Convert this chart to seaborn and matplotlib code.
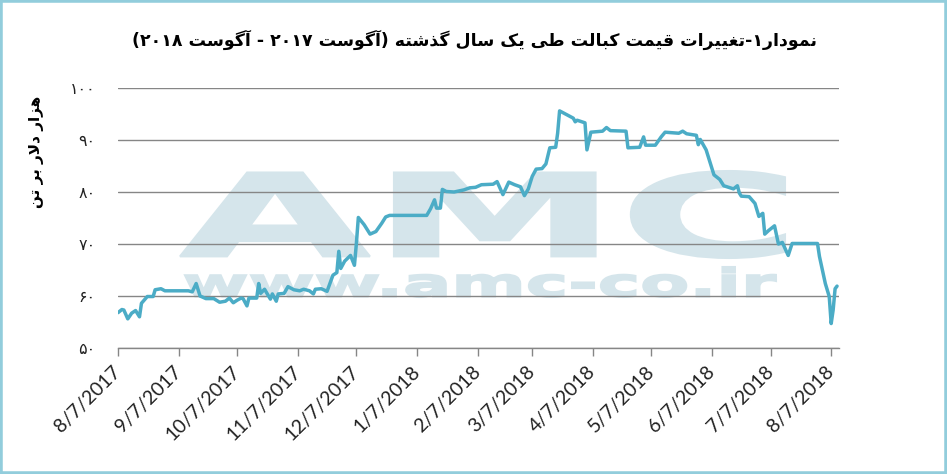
import re
import pandas as pd
import seaborn as sns
import matplotlib
matplotlib.use("Agg")
import matplotlib.pyplot as plt
from matplotlib.patches import PathPatch, Rectangle
from matplotlib.textpath import TextPath
from matplotlib.font_manager import FontProperties
from matplotlib.transforms import Affine2D

# ---- data ----
price_dates = [
    "2017-08-07", "2017-08-09", "2017-08-10", "2017-08-12", "2017-08-14", "2017-08-16",
    "2017-08-18", "2017-08-19", "2017-08-22", "2017-08-25", "2017-08-26", "2017-08-29",
    "2017-08-31", "2017-09-12", "2017-09-14", "2017-09-16", "2017-09-18", "2017-09-21",
    "2017-09-25", "2017-09-28", "2017-10-01", "2017-10-03", "2017-10-05", "2017-10-07",
    "2017-10-09", "2017-10-10", "2017-10-12", "2017-10-13", "2017-10-17", "2017-10-18",
    "2017-10-19", "2017-10-21", "2017-10-24", "2017-10-25", "2017-10-27", "2017-10-28",
    "2017-10-31", "2017-11-02", "2017-11-05", "2017-11-08", "2017-11-10", "2017-11-13",
    "2017-11-15", "2017-11-16", "2017-11-19", "2017-11-22", "2017-11-25", "2017-11-27",
    "2017-11-28", "2017-11-29", "2017-12-01", "2017-12-04", "2017-12-06", "2017-12-07",
    "2017-12-08", "2017-12-11", "2017-12-14", "2017-12-17", "2017-12-20", "2017-12-22",
    "2017-12-24", "2018-01-12", "2018-01-14", "2018-01-16", "2018-01-17", "2018-01-19",
    "2018-01-20", "2018-01-22", "2018-01-26", "2018-01-31", "2018-02-03", "2018-02-06",
    "2018-02-09", "2018-02-15", "2018-02-17", "2018-02-20", "2018-02-23", "2018-02-26",
    "2018-03-01", "2018-03-03", "2018-03-05", "2018-03-07", "2018-03-09", "2018-03-12",
    "2018-03-14", "2018-03-16", "2018-03-19", "2018-03-20", "2018-03-21", "2018-03-24",
    "2018-03-26", "2018-03-28", "2018-03-29", "2018-03-30", "2018-04-03", "2018-04-04",
    "2018-04-06", "2018-04-12", "2018-04-14", "2018-04-16", "2018-04-24", "2018-04-25",
    "2018-05-01", "2018-05-03", "2018-05-04", "2018-05-09", "2018-05-12", "2018-05-14",
    "2018-05-21", "2018-05-23", "2018-05-25", "2018-05-30", "2018-05-31", "2018-06-01",
    "2018-06-04", "2018-06-07", "2018-06-08", "2018-06-11", "2018-06-13", "2018-06-18",
    "2018-06-20", "2018-06-21", "2018-06-22", "2018-06-26", "2018-06-29", "2018-07-01",
    "2018-07-03", "2018-07-04", "2018-07-06", "2018-07-09", "2018-07-11", "2018-07-13",
    "2018-07-16", "2018-07-18", "2018-07-31", "2018-08-01", "2018-08-04", "2018-08-06",
    "2018-08-07", "2018-08-08", "2018-08-09", "2018-08-10",
]
price_values = [
    56.8, 57.4, 57.3, 55.6, 56.7, 57.2,
    56.0, 58.6, 59.9, 59.9, 61.2, 61.4,
    61.0, 61.0, 60.8, 62.4, 60.0, 59.5,
    59.5, 58.8, 59.0, 59.6, 58.7, 59.2,
    59.6, 59.5, 58.1, 59.6, 59.6, 62.4,
    60.5, 61.3, 59.4, 60.4, 59.0, 60.4,
    60.5, 61.8, 61.2, 61.0, 61.3, 61.0,
    60.4, 61.3, 61.4, 60.9, 64.0, 64.5,
    68.6, 65.3, 66.7, 67.8, 65.9, 70.1,
    75.1, 73.7, 71.9, 72.4, 74.0, 75.2,
    75.5, 75.5, 76.8, 78.5, 76.9, 76.9,
    80.5, 80.1, 80.0, 80.4, 80.8, 80.9,
    81.4, 81.5, 82.0, 79.5, 81.9, 81.4,
    81.0, 79.3, 80.6, 83.0, 84.4, 84.5,
    85.4, 88.5, 88.6, 91.3, 95.6, 95.0,
    94.6, 94.2, 93.5, 93.8, 93.3, 88.1,
    91.5, 91.7, 92.4, 91.8, 91.7, 88.5,
    88.6, 90.6, 89.0, 89.0, 90.6, 91.5,
    91.3, 91.7, 91.2, 90.9, 89.1, 90.1,
    88.1, 84.5, 83.3, 82.4, 81.2, 80.6,
    81.2, 79.8, 79.2, 79.1, 77.8, 75.3,
    75.9, 71.9, 72.6, 73.5, 70.0, 70.3,
    67.8, 70.1, 70.1, 67.6, 62.4, 59.9,
    54.7, 57.3, 61.4, 61.9,
]

tick_dates = ["2017-08-07", "2017-09-07", "2017-10-07", "2017-11-07", "2017-12-07",
              "2018-01-07", "2018-02-07", "2018-03-07", "2018-04-07", "2018-05-07",
              "2018-06-07", "2018-07-07", "2018-08-07"]
tick_labels = ["8/7/2017", "9/7/2017", "10/7/2017", "11/7/2017", "12/7/2017",
               "1/7/2018", "2/7/2018", "3/7/2018", "4/7/2018", "5/7/2018",
               "6/7/2018", "7/7/2018", "8/7/2018"]
y_ticks = [50, 60, 70, 80, 90, 100]
y_tick_labels = ["۵۰", "۶۰", "۷۰", "۸۰", "۹۰", "۱۰۰"]

title_text = "نمودار۱-تغییرات قیمت کبالت طی یک سال گذشته (آگوست ۲۰۱۷ - آگوست ۲۰۱۸)"
ylabel_text = "هزار دلار بر تن"

# ---- minimal Persian shaping (matplotlib has no bidi/shaping) ----
DUAL = {
    'ب': 0xFE8F, 'ت': 0xFE95, 'ث': 0xFE99, 'ج': 0xFE9D, 'ح': 0xFEA1, 'خ': 0xFEA5,
    'س': 0xFEB1, 'ش': 0xFEB5, 'ص': 0xFEB9, 'ض': 0xFEBD, 'ط': 0xFEC1, 'ظ': 0xFEC5,
    'ع': 0xFEC9, 'غ': 0xFECD, 'ف': 0xFED1, 'ق': 0xFED5, 'ل': 0xFEDD, 'م': 0xFEE1,
    'ن': 0xFEE5, 'ه': 0xFEE9, 'ک': 0xFB8E, 'گ': 0xFB92, 'ی': 0xFBFC, 'پ': 0xFB56,
    'چ': 0xFB7A,
}
RIGHT = {'ا': 0xFE8D, 'آ': 0xFE81, 'د': 0xFEA9, 'ذ': 0xFEAB, 'ر': 0xFEAD,
         'ز': 0xFEAF, 'ژ': 0xFB8A, 'و': 0xFEED}
DIGITS = "0123456789۰۱۲۳۴۵۶۷۸۹"


def shape(s):
    out, i, n = [], 0, len(s)
    while i < n:
        c = s[i]
        prev_j = i > 0 and s[i - 1] in DUAL
        if c == 'ل' and i + 1 < n and s[i + 1] in 'اآ':
            base = 0xFEFB if s[i + 1] == 'ا' else 0xFEF5
            out.append(chr(base + (1 if prev_j else 0)))
            i += 2
            continue
        if c in DUAL:
            next_j = i + 1 < n and (s[i + 1] in DUAL or s[i + 1] in RIGHT)
            idx = {(False, False): 0, (True, False): 1, (False, True): 2, (True, True): 3}[(prev_j, next_j)]
            out.append(chr(DUAL[c] + idx))
        elif c in RIGHT:
            out.append(chr(RIGHT[c] + (1 if prev_j else 0)))
        else:
            out.append(c)
        i += 1
    return ''.join(out)


def rtl(s):
    runs = re.findall('[%s]+|[^%s]+' % (DIGITS, DIGITS), shape(s))
    mirror = str.maketrans('()', ')(')
    parts = []
    for r in reversed(runs):
        parts.append(r if r[0] in DIGITS else r[::-1].translate(mirror))
    return ''.join(parts)


# ---- plot ----
sns.set_style("white")
plt.rcParams['font.family'] = ['DejaVu Sans']

W, H = 947, 474
fig = plt.figure(figsize=(W / 100, H / 100), dpi=100)
ax = fig.add_axes([118 / W, (H - 348) / H, (839 - 118) / W, (348 - 88) / H])
ax.patch.set_alpha(0)

df = pd.DataFrame({'date': pd.to_datetime(price_dates), 'price': price_values})

# watermark
wm_color = '#d5e5eb'


def stamp(text, box):
    tp = TextPath((0, 0), text, size=100, prop=FontProperties(family='DejaVu Sans', weight='bold'))
    ext = tp.get_extents()
    x0, y0, x1, y1 = box
    tr = (Affine2D().translate(-ext.x0, -ext.y0)
          .scale((x1 - x0) / ext.width, (y1 - y0) / ext.height)
          .translate(x0, H - y1).scale(1 / W, 1 / H))
    ax.add_patch(PathPatch(tp, transform=tr + fig.transFigure, facecolor=wm_color,
                           edgecolor=wm_color, linewidth=1.5, zorder=0.2, clip_on=False))


stamp("AMC", (180, 171, 785, 258))
stamp("www.amc-co.ir", (185, 267, 776, 297))

sns.lineplot(data=df, x='date', y='price', ax=ax, color='#4bacc6', linewidth=2.5,
             estimator=None, zorder=3)

ax.set_ylim(50, 100)
ax.set_xlim(pd.Timestamp("2017-08-07"), pd.Timestamp("2018-08-11"))
ax.set_yticks(y_ticks)
ax.set_yticklabels(y_tick_labels, fontsize=11.5, color='#222222')
ax.set_xticks(pd.to_datetime(tick_dates))
ax.set_xticklabels(tick_labels, rotation=45, ha='right', va='center',
                   rotation_mode='anchor', fontsize=14, color='#222222',
                   family=['Lato', 'DejaVu Sans'])
ax.tick_params(axis='y', length=0, pad=16)
ax.tick_params(axis='x', length=6, width=1, color='#868686', pad=9, direction='out', bottom=True)

ax.grid(axis='y', color='#868686', linewidth=1)
ax.grid(axis='x', visible=False)
for side in ['left', 'right', 'top']:
    ax.spines[side].set_visible(False)
ax.spines['bottom'].set_color('#868686')
ax.spines['bottom'].set_linewidth(1)
ax.set_xlabel('')
ax.set_ylabel('')

fig.text(474 / W, 1 - 40 / H, rtl(title_text), ha='center', va='center',
         fontsize=12.5, fontweight='bold', color='black')
fig.text(37 / W, 1 - 152 / H, rtl(ylabel_text), ha='center', va='center',
         rotation=90, fontsize=11, fontweight='bold', color='black')

fig.patches.append(Rectangle((0, 0), 1, 1, transform=fig.transFigure, fill=False,
                             edgecolor='#92cddc', linewidth=4))

fig.savefig('out.png', dpi=100)
